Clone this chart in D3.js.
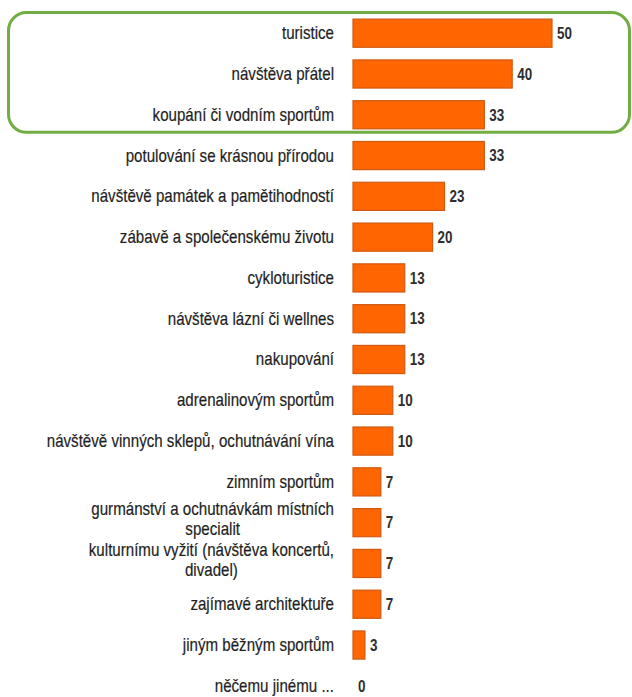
<!DOCTYPE html>
<html><head><meta charset="utf-8">
<script src="https://cdn.jsdelivr.net/npm/d3@7"></script>
<style>
html,body{margin:0;padding:0;background:#fff;}
svg{display:block;}
</style></head>
<body>
<svg id="chart" width="632" height="697"></svg>
<script>
const categories = [
  "turistice",
  "návštěva přátel",
  "koupání či vodním sportům",
  "potulování se krásnou přírodou",
  "návštěvě památek a pamětihodností",
  "zábavě a společenskému životu",
  "cykloturistice",
  "návštěva lázní či wellnes",
  "nakupování",
  "adrenalinovým sportům",
  "návštěvě vinných sklepů, ochutnávání vína",
  "zimním sportům",
  "gurmánství a ochutnávkám místních|specialit",
  "kulturnímu vyžití (návštěva koncertů,|divadel)",
  "zajímavé architektuře",
  "jiným běžným sportům",
  "něčemu jinému ..."
];
const values = [50, 40, 33, 33, 23, 20, 13, 13, 13, 10, 10, 7, 7, 7, 7, 3, 0];
const highlighted = [0, 1, 2];

const svg = d3.select("#chart");
const font = "'Liberation Sans',Arial,sans-serif";
const narrow = 0.84;
const labelRight = 334;

const x = d3.scaleLinear().domain([0, 50]).range([353, 552]);
const y = d3.scaleBand().domain(d3.range(categories.length)).range([13, 706]).paddingInner(0.31).paddingOuter(0.15);

// highlight box
const hb0 = y(highlighted[0]), hb1 = y(highlighted[highlighted.length-1]) + y.bandwidth();
svg.append("rect")
  .attr("x", 8.5).attr("y", hb0 - 6.5).attr("width", 621).attr("height", hb1 - hb0 + 10)
  .attr("rx", 18).attr("ry", 18)
  .attr("fill", "none").attr("stroke", "#72ad44").attr("stroke-width", 3);

// bars
svg.selectAll("rect.bar").data(values).join("rect")
  .attr("class", "bar")
  .attr("x", x(0))
  .attr("y", (d, i) => y(i))
  .attr("width", d => Math.max(0, x(d) - x(0)))
  .attr("height", y.bandwidth())
  .attr("fill", d => d > 0 ? "#ff6500" : "none")
  .attr("stroke", d => d > 0 ? "#cf5a12" : "none")
  .attr("stroke-width", 1.2);

// value labels
svg.selectAll("g.val").data(values).join("g")
  .attr("class", "val")
  .attr("transform", (d, i) => `translate(${x(d) + 5},${y(i) + y.bandwidth() / 2}) scale(${narrow},1)`)
  .append("text")
  .attr("dy", "0.36em")
  .attr("font-family", font).attr("font-size", 16).attr("font-weight", "bold")
  .attr("fill", "#2e2e2e")
  .text(d => d);

// category labels
const lab = svg.selectAll("g.cat").data(categories).join("g")
  .attr("class", "cat")
  .attr("transform", (d, i) => `translate(${labelRight},${y(i) + y.bandwidth() / 2}) scale(${narrow},1)`);

lab.each(function(d) {
  const parts = d.split("|");
  const g = d3.select(this);
  const style = t => t.attr("font-family", font).attr("font-size", 18)
    .attr("fill", "#1e1e1e").attr("stroke", "#1e1e1e").attr("stroke-width", 0.2);
  if (parts.length === 1) {
    g.append("text").attr("text-anchor", "end").attr("dy", "0.33em").call(style).text(parts[0]);
  } else {
    const t1 = g.append("text").attr("text-anchor", "end").attr("y", -7.5).call(style).text(parts[0]);
    const w1 = t1.node().getComputedTextLength();
    g.append("text").attr("text-anchor", "middle").attr("x", -w1 / 2).attr("y", 12.5).call(style).text(parts[1]);
  }
});
</script>
</body></html>
